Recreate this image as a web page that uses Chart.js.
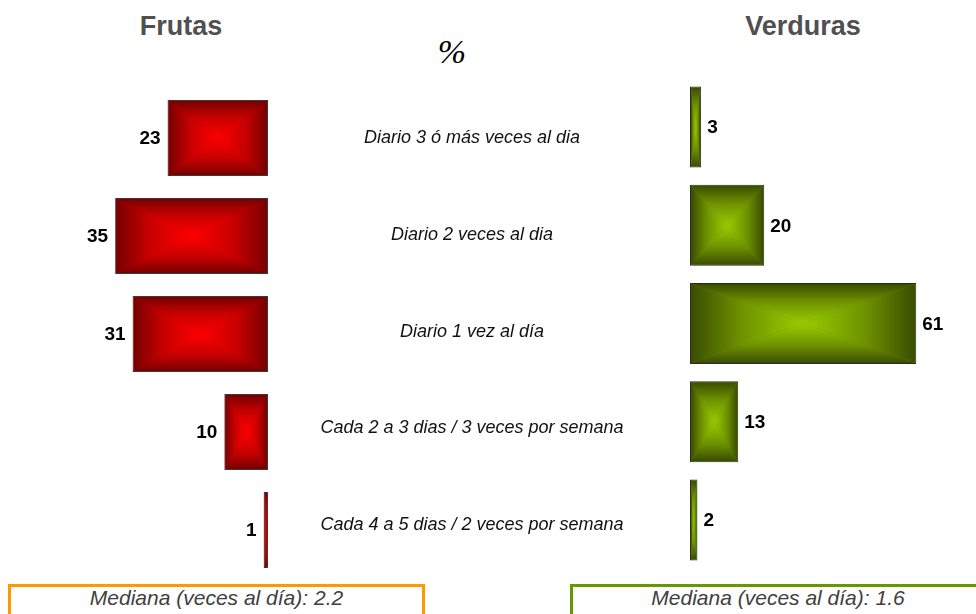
<!DOCTYPE html>
<html>
<head>
<meta charset="utf-8">
<script src="https://cdn.jsdelivr.net/npm/chart.js@4.4.1/dist/chart.umd.min.js"></script>
<style>
    body {
        margin: 0;
        width: 976px;
        height: 614px;
        overflow: hidden;
        position: relative;
        background: #fff;
        font-family: Arial, "Liberation Sans", sans-serif;
    }
    canvas { position: absolute; }
    #graficoFrutas { left: 40px; top: 89px; }
    #graficoVerduras { left: 690px; top: 78px; }
    .titulo {
        position: absolute;
        top: 13px;
        width: 200px;
        text-align: center;
        font-size: 27px;
        line-height: 27px;
        font-weight: bold;
        color: #505050;
    }
    #porcentaje {
        position: absolute;
        left: 402px;
        top: 35px;
        width: 100px;
        text-align: center;
        font-family: "Liberation Serif", "Times New Roman", serif;
        font-style: italic;
        font-size: 34px;
        line-height: 34px;
        color: #000;
    }
    .caja {
        position: absolute;
        top: 584px;
        height: 40px;
        box-sizing: border-box;
        text-align: center;
        font-style: italic;
        font-size: 21px;
        line-height: 22px;
        color: #404040;
    }
    #cajaFrutas { left: 8px; width: 417px; border: 3px solid #ff9900; }
    #cajaVerduras { left: 570px; width: 416px; border: 3px solid #669900; }
</style>
</head>
<body>
<div class="titulo" style="left: 81px;">Frutas</div>
<div class="titulo" style="left: 703px;">Verduras</div>
<div id="porcentaje">%</div>
<canvas id="graficoFrutas" width="636" height="490"></canvas>
<canvas id="graficoVerduras" width="286" height="491"></canvas>
<div class="caja" id="cajaFrutas"></div>
<div class="caja" id="cajaVerduras"></div>

<script>
// datos (%)
var categorias = [
    "Diario 3 ó más veces al dia",
    "Diario 2 veces al dia",
    "Diario 1 vez al día",
    "Cada 2 a 3 dias / 3 veces por semana",
    "Cada 4 a 5 dias / 2 veces por semana",
];
var frutas = [23, 35, 31, 10, 1];
var verduras = [3, 20, 61, 13, 2];
var medianaFrutas = 2.2;
var medianaVerduras = 1.6;

document.getElementById("cajaFrutas").textContent =
    "Mediana (veces al día): " + medianaFrutas;
document.getElementById("cajaVerduras").textContent =
    "Mediana (veces al día): " + medianaVerduras;

// relleno tipo "rectangulo desde el centro": 4 triangulos con degradado
var degradado = {
    id: "degradado",
    afterDatasetsDraw: function (chart, args, opts) {
        var ctx = chart.ctx;
        var meta = chart.getDatasetMeta(0);
        ctx.save();
        meta.data.forEach(function (bar) {
            var p = bar.getProps(["x", "y", "base", "height"], true);
            var l = Math.min(p.x, p.base) + 1;
            var r = Math.max(p.x, p.base) - 1;
            var t = p.y - p.height / 2 + 1;
            var b = p.y + p.height / 2 - 1;
            if (r <= l) return;
            var cx = (l + r) / 2;
            var cy = (t + b) / 2;

            function grad(x0, y0, x1, y1) {
                var g = ctx.createLinearGradient(x0, y0, x1, y1);
                g.addColorStop(0, opts.borde);
                g.addColorStop(0.45, opts.medio);
                g.addColorStop(1, opts.centro);
                return g;
            }
            function tri(ax, ay, bx, by, g) {
                ctx.beginPath();
                ctx.moveTo(ax, ay);
                ctx.lineTo(bx, by);
                ctx.lineTo(cx, cy);
                ctx.closePath();
                ctx.fillStyle = g;
                ctx.fill();
            }
            tri(l, t, r, t, grad(0, t, 0, cy));
            tri(l, b, r, b, grad(0, b, 0, cy));
            tri(l, t, l, b, grad(l, 0, cx, 0));
            tri(r, t, r, b, grad(r, 0, cx, 0));
        });
        ctx.restore();
    },
};

// numeros al lado de cada barra
var etiquetas = {
    id: "etiquetas",
    afterDatasetsDraw: function (chart, args, opts) {
        var ctx = chart.ctx;
        var meta = chart.getDatasetMeta(0);
        var valores = chart.data.datasets[0].data;
        ctx.save();
        ctx.font = "bold 19px Arial, 'Liberation Sans', sans-serif";
        ctx.fillStyle = "#000";
        ctx.textBaseline = "middle";
        ctx.textAlign = opts.izquierda ? "right" : "left";
        meta.data.forEach(function (bar, i) {
            var x = opts.izquierda ? bar.x - 7 : bar.x + 6;
            ctx.fillText(valores[i], x, bar.y + 1);
        });
        ctx.restore();
    },
};

// categorias en el centro, alineadas con las filas del eje y
var categoriasCentro = {
    id: "categoriasCentro",
    afterDraw: function (chart, args, opts) {
        var ctx = chart.ctx;
        var escalaY = chart.scales.y;
        ctx.save();
        ctx.font = "italic 18px Arial, 'Liberation Sans', sans-serif";
        ctx.fillStyle = "#111";
        ctx.textAlign = "center";
        ctx.textBaseline = "middle";
        chart.data.labels.forEach(function (texto, i) {
            var y = escalaY.getPixelForValue(i) - i * 1.2;
            ctx.fillText(texto, chart.chartArea.right + opts.centro, y);
        });
        ctx.restore();
    },
};

var graficoFrutas = new Chart(document.getElementById("graficoFrutas"), {
    type: "bar",
    data: {
        labels: categorias,
        datasets: [
            {
                label: "Frutas",
                data: frutas,
                backgroundColor: "#b00000",
                borderColor: "#3a3a3a",
                borderWidth: 1,
                borderSkipped: false,
                barPercentage: 0.776,
                categoryPercentage: 1,
            },
        ],
    },
    options: {
        indexAxis: "y",
        responsive: false,
        animation: false,
        layout: { padding: { left: 0, top: 0, bottom: 0, right: 408 } },
        plugins: {
            legend: { display: false },
            tooltip: { enabled: false },
            degradado: { borde: "#780000", medio: "#c80000", centro: "#ff0000" },
            etiquetas: { izquierda: true },
            categoriasCentro: { centro: 204 },
        },
        scales: {
            x: { display: false, reverse: true, min: 0, max: 52.2 },
            y: { display: false },
        },
    },
    plugins: [degradado, etiquetas, categoriasCentro],
});

var graficoVerduras = new Chart(document.getElementById("graficoVerduras"), {
    type: "bar",
    data: {
        labels: categorias,
        datasets: [
            {
                label: "Verduras",
                data: verduras,
                backgroundColor: "#6a8a00",
                borderColor: "#2a2a2a",
                borderWidth: 1,
                borderSkipped: false,
                barPercentage: 0.825,
                categoryPercentage: 1,
            },
        ],
    },
    options: {
        indexAxis: "y",
        responsive: false,
        animation: false,
        layout: { padding: 0 },
        plugins: {
            legend: { display: false },
            tooltip: { enabled: false },
            degradado: { borde: "#3a4d00", medio: "#6e9200", centro: "#99cc00" },
            etiquetas: { izquierda: false },
        },
        scales: {
            x: { display: false, min: 0, max: 77.1 },
            y: { display: false },
        },
    },
    plugins: [degradado, etiquetas],
});
</script>
</body>
</html>
